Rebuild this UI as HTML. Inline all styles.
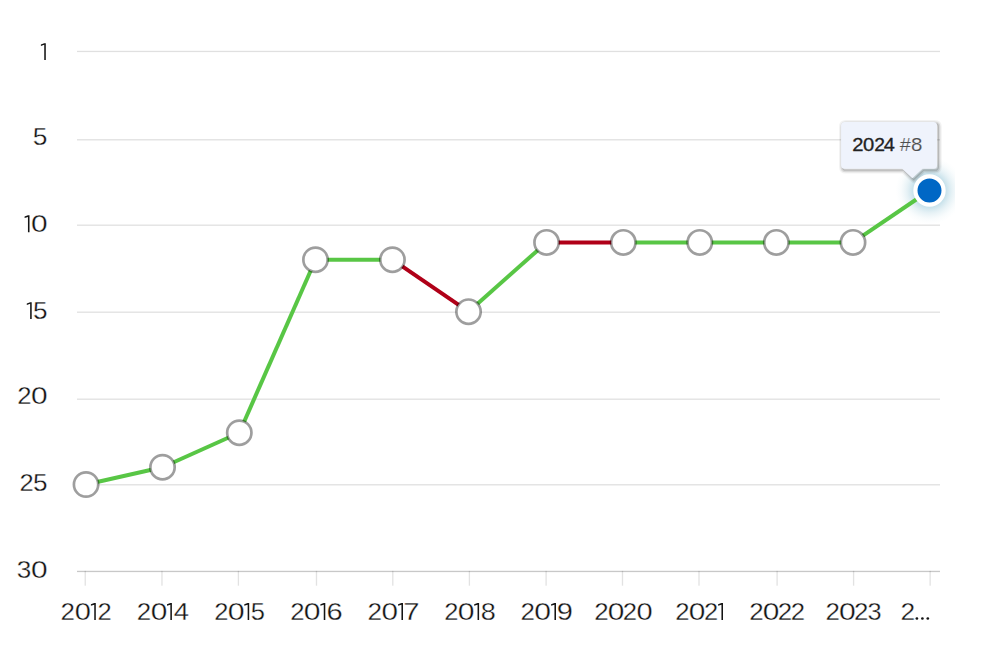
<!DOCTYPE html>
<html lang="en">
<head>
<meta charset="utf-8">
<title>Ranking history</title>
<style>
html,body{margin:0;padding:0;background:#ffffff;}
body{width:994px;height:646px;overflow:hidden;font-family:"Liberation Sans", sans-serif;}
svg{display:block;}
svg text{font-family:"Liberation Sans", sans-serif;}
</style>
</head>
<body>
<svg width="994" height="646" viewBox="0 0 994 646">
<defs>
<radialGradient id="halo" cx="50%" cy="50%" r="50%">
<stop offset="0" stop-color="#8fc3d6" stop-opacity="0.6"/>
<stop offset="0.48" stop-color="#8fc3d6" stop-opacity="0.5"/>
<stop offset="0.66" stop-color="#9fcbdb" stop-opacity="0.26"/>
<stop offset="0.85" stop-color="#b4d8e4" stop-opacity="0.08"/>
<stop offset="1" stop-color="#c4e0ea" stop-opacity="0"/>
</radialGradient>
<clipPath id="haloclip"><rect x="0" y="157" width="955" height="100"/></clipPath>
</defs>
<rect x="0" y="0" width="994" height="646" fill="#ffffff"/>
<g fill="rgba(0,0,0,0.122)">
<rect x="77" y="50.78" width="863" height="1.33"/>
<rect x="77" y="139.13" width="863" height="1.33"/>
<rect x="77" y="224.53" width="863" height="1.33"/>
<rect x="77" y="311.53" width="863" height="1.33"/>
<rect x="77" y="398.53" width="863" height="1.33"/>
<rect x="77" y="484.13" width="863" height="1.33"/>
</g>
<g fill="rgba(0,0,0,0.114)">
<rect x="84.58" y="570.8" width="1.33" height="14.9"/>
<rect x="161.29" y="570.8" width="1.33" height="14.9"/>
<rect x="237.73" y="570.8" width="1.33" height="14.9"/>
<rect x="315.83" y="570.8" width="1.33" height="14.9"/>
<rect x="392.13" y="570.8" width="1.33" height="14.9"/>
<rect x="468.73" y="570.8" width="1.33" height="14.9"/>
<rect x="545.43" y="570.8" width="1.33" height="14.9"/>
<rect x="621.83" y="570.8" width="1.33" height="14.9"/>
<rect x="698.33" y="570.8" width="1.33" height="14.9"/>
<rect x="776.43" y="570.8" width="1.33" height="14.9"/>
<rect x="852.93" y="570.8" width="1.33" height="14.9"/>
<rect x="929.48" y="570.8" width="1.33" height="14.9"/>
</g>
<rect x="77" y="570.78" width="863" height="1.33" fill="rgba(0,0,0,0.216)"/>
<g fill="#141414" font-size="24.6" stroke="#ffffff" stroke-width="0.3">
<path stroke="none" d="M45.8 60.12 L45.8 43.17 L44.25 43.17 L40.9 44.47 L40.9 45.92 L44.25 44.82 L44.25 60.12 Z"/>
<text transform="translate(32.8 145.02) scale(1.0697 1)">5</text>
<path stroke="none" d="M29.5 232.22 L29.5 215.27 L27.95 215.27 L24.6 216.57 L24.6 218.02 L27.95 216.92 L27.95 232.22 Z"/><text transform="translate(30.95 232.22) scale(1.2152 1)">0</text>
<path stroke="none" d="M31.7 319.12 L31.7 302.17 L30.15 302.17 L26.8 303.47 L26.8 304.92 L30.15 303.82 L30.15 319.12 Z"/><text transform="translate(32.91 319.12) scale(1.0612 1)">5</text>
<text transform="translate(17.26 404.12) scale(1.0453 1)">2</text><text transform="translate(30.95 404.12) scale(1.2152 1)">0</text>
<text transform="translate(19.58 491.12) scale(1.0364 1)">2</text><text transform="translate(32.91 491.12) scale(1.0612 1)">5</text>
<text transform="translate(16.7 578.02) scale(1.0638 1)">3</text><text transform="translate(30.95 578.02) scale(1.2152 1)">0</text>
</g>
<g fill="#141414" font-size="24.6" stroke="#ffffff" stroke-width="0.3">
<text transform="translate(60.55 620.02) scale(1.0542 1)">2</text><text transform="translate(74.69 620.02) scale(1.181 1)">0</text><path stroke="none" d="M95.8 620.02 L95.8 603.07 L94.25 603.07 L90.9 604.37 L90.9 605.82 L94.25 604.72 L94.25 620.02 Z"/><text transform="translate(97.38 620.02) scale(1.0364 1)">2</text>
<text transform="translate(136.65 620.02) scale(1.0542 1)">2</text><text transform="translate(150.65 620.02) scale(1.2152 1)">0</text><path stroke="none" d="M171.9 620.02 L171.9 603.07 L170.35 603.07 L167 604.37 L167 605.82 L170.35 604.72 L170.35 620.02 Z"/><text transform="translate(173.76 620.02) scale(1.1138 1)">4</text>
<text transform="translate(214.18 620.02) scale(1.0364 1)">2</text><text transform="translate(227.64 620.02) scale(1.2323 1)">0</text><path stroke="none" d="M249.2 620.02 L249.2 603.07 L247.65 603.07 L244.3 604.37 L244.3 605.82 L247.65 604.72 L247.65 620.02 Z"/><text transform="translate(250.73 620.02) scale(1.0355 1)">5</text>
<text transform="translate(290.26 620.02) scale(1.0453 1)">2</text><text transform="translate(303.85 620.02) scale(1.2238 1)">0</text><path stroke="none" d="M325.3 620.02 L325.3 603.07 L323.75 603.07 L320.4 604.37 L320.4 605.82 L323.75 604.72 L323.75 620.02 Z"/><text transform="translate(326.49 620.02) scale(1.1842 1)">6</text>
<text transform="translate(367.54 620.02) scale(1.0632 1)">2</text><text transform="translate(381.56 620.02) scale(1.2067 1)">0</text><path stroke="none" d="M403 620.02 L403 603.07 L401.45 603.07 L398.1 604.37 L398.1 605.82 L401.45 604.72 L401.45 620.02 Z"/><text transform="translate(403.29 620.02) scale(1.1882 1)">7</text>
<text transform="translate(444.18 620.02) scale(1.0364 1)">2</text><text transform="translate(457.65 620.02) scale(1.2238 1)">0</text><path stroke="none" d="M479.1 620.02 L479.1 603.07 L477.55 603.07 L474.2 604.37 L474.2 605.82 L477.55 604.72 L477.55 620.02 Z"/><text transform="translate(480.73 620.02) scale(1.0984 1)">8</text>
<text transform="translate(520.55 620.02) scale(1.0542 1)">2</text><text transform="translate(534.25 620.02) scale(1.2238 1)">0</text><path stroke="none" d="M556 620.02 L556 603.07 L554.45 603.07 L551.1 604.37 L551.1 605.82 L554.45 604.72 L554.45 620.02 Z"/><text transform="translate(556.74 620.02) scale(1.1802 1)">9</text>
<text transform="translate(594.25 620.02) scale(1.0542 1)">2</text><text transform="translate(607.65 620.02) scale(1.2152 1)">0</text><text transform="translate(622.66 620.02) scale(1.0453 1)">2</text><text transform="translate(636.39 620.02) scale(1.181 1)">0</text>
<text transform="translate(675.26 620.02) scale(1.0453 1)">2</text><text transform="translate(688.85 620.02) scale(1.2152 1)">0</text><text transform="translate(703.98 620.02) scale(1.0364 1)">2</text><path stroke="none" d="M723 620.02 L723 603.07 L721.45 603.07 L718.1 604.37 L718.1 605.82 L721.45 604.72 L721.45 620.02 Z"/>
<text transform="translate(749.25 620.02) scale(1.0542 1)">2</text><text transform="translate(762.75 620.02) scale(1.2152 1)">0</text><text transform="translate(777.75 620.02) scale(1.0542 1)">2</text><text transform="translate(790.76 620.02) scale(1.0453 1)">2</text>
<text transform="translate(825.45 620.02) scale(1.0542 1)">2</text><text transform="translate(838.95 620.02) scale(1.2238 1)">0</text><text transform="translate(853.95 620.02) scale(1.0542 1)">2</text><text transform="translate(867.54 620.02) scale(1.0292 1)">3</text>
<text transform="translate(900.53 620.02) scale(1.0721 1)">2</text>
<circle cx="916.9" cy="618.5" r="1.35" stroke="none"/>
<circle cx="922.4" cy="618.5" r="1.35" stroke="none"/>
<circle cx="927.8" cy="618.5" r="1.35" stroke="none"/>
</g>
<circle cx="929.5" cy="190.5" r="34" fill="url(#halo)" clip-path="url(#haloclip)"/>
<g fill="none" stroke-width="4" stroke-linecap="butt">
<line x1="86.06" y1="484.5" x2="162.53" y2="467.2" stroke="#58c645"/>
<line x1="162.53" y1="467.2" x2="239.3" y2="432.7" stroke="#58c645"/>
<line x1="239.3" y1="432.7" x2="315.5" y2="259.7" stroke="#58c645"/>
<line x1="315.5" y1="259.7" x2="392.43" y2="259.7" stroke="#58c645"/>
<line x1="392.43" y1="259.7" x2="468.54" y2="311.65" stroke="#b00018"/>
<line x1="468.54" y1="311.65" x2="546.59" y2="242.4" stroke="#58c645"/>
<line x1="546.59" y1="242.4" x2="623.3" y2="242.4" stroke="#b00018"/>
<line x1="623.3" y1="242.4" x2="699.77" y2="242.4" stroke="#58c645"/>
<line x1="699.77" y1="242.4" x2="776.37" y2="242.4" stroke="#58c645"/>
<line x1="776.37" y1="242.4" x2="853" y2="242.4" stroke="#58c645"/>
<line x1="853" y1="242.4" x2="929.5" y2="190.5" stroke="#58c645"/>
</g>
<g fill="#ffffff" stroke="rgba(0,0,0,0.38)" stroke-width="2.7">
<circle cx="86.06" cy="484.5" r="12.15"/>
<circle cx="162.53" cy="467.2" r="12.15"/>
<circle cx="239.3" cy="432.7" r="12.15"/>
<circle cx="315.5" cy="259.7" r="12.15"/>
<circle cx="392.43" cy="259.7" r="12.15"/>
<circle cx="468.54" cy="311.65" r="12.15"/>
<circle cx="546.59" cy="242.4" r="12.15"/>
<circle cx="623.3" cy="242.4" r="12.15"/>
<circle cx="699.77" cy="242.4" r="12.15"/>
<circle cx="776.37" cy="242.4" r="12.15"/>
<circle cx="853" cy="242.4" r="12.15"/>
</g>
<g fill="none" stroke="#000000" stroke-linejoin="round" transform="translate(1.33 1.33)">
<path d="M844.55 122.1 H933.55 Q937.05 122.1 937.05 125.6 V165.3 Q937.05 168.8 933.55 168.8 H922.4 L912.3 178.3 L902.2 168.8 H844.55 Q841.05 168.8 841.05 165.3 V125.6 Q841.05 122.1 844.55 122.1 Z" stroke-width="6.67" stroke-opacity="0.05"/>
<path d="M844.55 122.1 H933.55 Q937.05 122.1 937.05 125.6 V165.3 Q937.05 168.8 933.55 168.8 H922.4 L912.3 178.3 L902.2 168.8 H844.55 Q841.05 168.8 841.05 165.3 V125.6 Q841.05 122.1 844.55 122.1 Z" stroke-width="4" stroke-opacity="0.1"/>
<path d="M844.55 122.1 H933.55 Q937.05 122.1 937.05 125.6 V165.3 Q937.05 168.8 933.55 168.8 H922.4 L912.3 178.3 L902.2 168.8 H844.55 Q841.05 168.8 841.05 165.3 V125.6 Q841.05 122.1 844.55 122.1 Z" stroke-width="1.33" stroke-opacity="0.15"/>
</g>
<path d="M844.55 122.1 H933.55 Q937.05 122.1 937.05 125.6 V165.3 Q937.05 168.8 933.55 168.8 H922.4 L912.3 178.3 L902.2 168.8 H844.55 Q841.05 168.8 841.05 165.3 V125.6 Q841.05 122.1 844.55 122.1 Z" fill="#eff3fc"/>
<g font-size="17.7" fill="#222222" stroke="#222222" stroke-width="0.3" stroke-linejoin="round">
<text transform="translate(852.14 150.9) scale(1.1424 1)">2</text>
<text transform="translate(863.04 150.9) scale(1.1418 1)">0</text>
<text transform="translate(874.18 150.9) scale(1.0927 1)">2</text>
<text transform="translate(883.85 150.9) scale(1.1299 1)">4</text>
</g>
<g font-size="18.8" fill="#4e4e4e" stroke="#eff3fc" stroke-width="0.14">
<text transform="translate(899.73 151) scale(1.058 1)">&#35;</text>
<text transform="translate(911.11 151) scale(1.091 1)">8</text>
</g>
<circle cx="929.5" cy="190.5" r="14.1" fill="#0067c5" stroke="#ffffff" stroke-width="4.2"/>
</svg>
</body>
</html>
